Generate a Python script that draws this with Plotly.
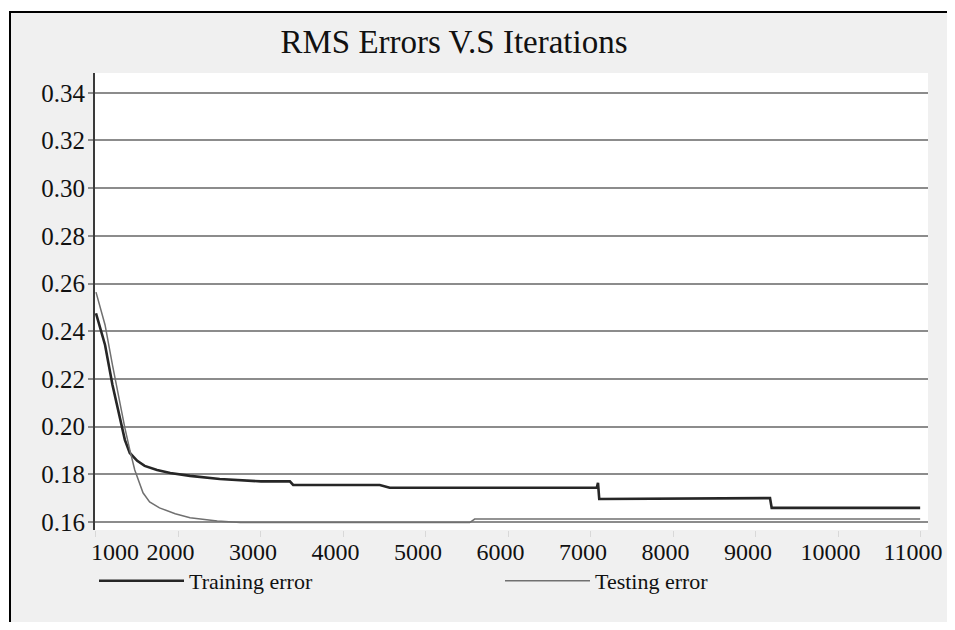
import plotly.graph_objects as go

# ---- data ----
train_iter = [1000, 1110, 1200, 1290, 1350, 1410, 1500, 1590, 1740, 1900, 2140, 2500,
              3000, 3350, 3390, 4440, 4560, 7070, 7085, 7100, 9170, 9190, 10990]
train_err = [0.2475, 0.2342, 0.2174, 0.2028, 0.1944, 0.1889, 0.1856, 0.1835, 0.1818, 0.1805,
             0.1793, 0.1780, 0.1770, 0.1770, 0.1755, 0.1755, 0.1743, 0.1743, 0.1764, 0.1696,
             0.1700, 0.1659, 0.1659]

test_iter = [1000, 1110, 1200, 1290, 1350, 1410, 1470, 1570, 1650, 1770, 1960, 2140,
             2470, 2750, 5530, 5590, 10990]
test_err = [0.2564, 0.2426, 0.2258, 0.2091, 0.1994, 0.1902, 0.1818, 0.1722, 0.1684, 0.1659,
            0.1634, 0.1617, 0.1604, 0.1597, 0.1597, 0.1612, 0.1612]

x_ticks = [1000, 2000, 3000, 4000, 5000, 6000, 7000, 8000, 9000, 10000, 11000]
x_ticktext = ["\u00a0" * 9 + "1000", "2000", "3000", "4000", "5000", "6000",
              "7000", "8000", "9000", "10000", "11000"]
y_ticks = [0.16, 0.18, 0.20, 0.22, 0.24, 0.26, 0.28, 0.30, 0.32, 0.34]

title_text = "RMS Errors V.S Iterations"
names = ["Training error", "Testing error"]

SERIF = "Liberation Serif, Times New Roman, serif"

fig = go.Figure()
fig.add_trace(go.Scatter(x=train_iter, y=train_err, mode="lines", name=names[0],
                         line=dict(color="#262626", width=2.6)))
fig.add_trace(go.Scatter(x=test_iter, y=test_err, mode="lines", name=names[1],
                         line=dict(color="#707070", width=1.5)))

# the page body adds an 8px margin all round; keep the figure inside the window
OFF = 8
W, H = 955 - 2 * OFF, 630 - 2 * OFF
# plot area in screen px: left 95, right 928, top 73, bottom 530
SL, SR, ST, SB = 95, 928, 73, 530
L, T = SL - OFF, ST - OFF
R, B = W - (SR - OFF), H - (SB - OFF)
pw, ph = W - L - R, H - T - B

def px_x(sx):
    return (sx - OFF - L) / pw

def px_y(sy):
    return (H - B - (sy - OFF)) / ph

shapes = [
    # white strips outside the scanned frame
    dict(type="rect", xref="paper", yref="paper", x0=px_x(0), x1=px_x(960),
         y0=px_y(11), y1=px_y(0), fillcolor="white", line=dict(width=0), layer="below"),
    dict(type="rect", xref="paper", yref="paper", x0=px_x(0), x1=px_x(9),
         y0=px_y(640), y1=px_y(0), fillcolor="white", line=dict(width=0), layer="below"),
    # black frame
    dict(type="line", xref="paper", yref="paper", x0=px_x(9), x1=px_x(960),
         y0=px_y(12), y1=px_y(12), line=dict(color="black", width=2)),
    dict(type="line", xref="paper", yref="paper", x0=px_x(10), x1=px_x(10),
         y0=px_y(12), y1=px_y(640), line=dict(color="black", width=2)),
]

fig.update_layout(
    width=W, height=H,
    margin=dict(l=L, r=R, t=T, b=B, pad=0, autoexpand=False),
    paper_bgcolor="#f0f0f0",
    plot_bgcolor="white",
    title=dict(text=title_text, x=px_x(454), xref="paper", xanchor="center",
               y=1 - (41 - OFF) / H, yanchor="middle",
               font=dict(family=SERIF, size=33, color="#111111")),
    font=dict(family=SERIF, color="#111111"),
    showlegend=True,
    legend=dict(orientation="h", x=px_x(94), xanchor="left", y=px_y(560), yanchor="top",
                bgcolor="rgba(0,0,0,0)", font=dict(family=SERIF, size=22, color="#111111"),
                itemwidth=85, entrywidth=306, entrywidthmode="pixels"),
    shapes=shapes,
)

fig.update_xaxes(range=[988, 11085], tickvals=x_ticks, ticktext=x_ticktext,
                 showgrid=False, zeroline=False, showline=False, automargin=False,
                 ticks="outside", ticklen=6, tickcolor="#d8d8d8", tickwidth=1,
                 ticklabelstandoff=-6, ticklabelshift=-8, ticklabeloverflow="allow",
                 tickfont=dict(family=SERIF, size=24, color="#111111"))
fig.update_yaxes(range=[0.1566, 0.3483], tickvals=y_ticks, tickformat=".2f",
                 showgrid=True, gridcolor="#8c8c8c", gridwidth=1.5, zeroline=False,
                 showline=True, linecolor="#3a3a3a", linewidth=2, automargin=False,
                 ticks="outside", ticklen=5, tickcolor="#8c8c8c", tickwidth=1.5,
                 ticklabelstandoff=-2,
                 tickfont=dict(family=SERIF, size=25, color="#111111"))

fig.write_html("out.html")
